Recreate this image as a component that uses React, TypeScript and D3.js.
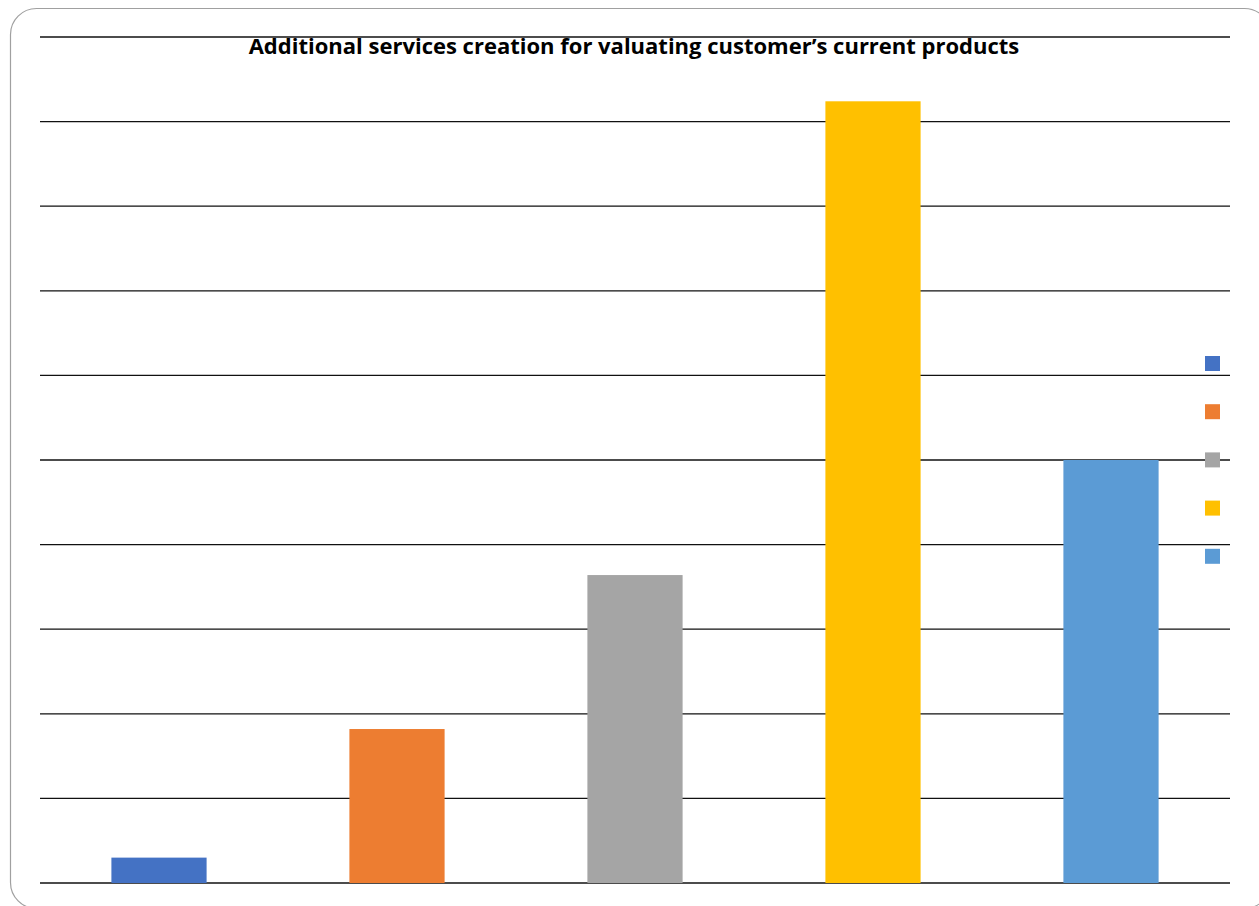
import * as d3 from "d3";
import { useEffect, useRef } from "react";

const categories = ["A", "B", "C", "D", "E"];
const values = [0.3, 1.82, 3.64, 9.24, 5.0];
const colors = ["#4472C4", "#ED7D31", "#A5A5A5", "#FFC000", "#5B9BD5"];
const yTicks = [0, 1, 2, 3, 4, 5, 6, 7, 8, 9, 10];
const title = "Additional services creation for valuating customer\u2019s current products";

const App = () => {
    const svgRef = useRef<SVGSVGElement>(null);
    const width = 1259;
    const height = 906;
    const left = 40;
    const right = 1230;
    const top = 37;
    const bottom = 883;

    useEffect(() => {
        if (svgRef.current) drawChart();
    }, [svgRef]);

    const drawChart = () => {
        const svg = d3.select(svgRef.current);
        svg.selectAll("*").remove();

        // Frame around the chart
        svg.append("rect")
            .attr("x", 10.5)
            .attr("y", 8.5)
            .attr("width", 1260)
            .attr("height", 900)
            .attr("rx", 26)
            .attr("fill", "#fff")
            .attr("stroke", "#a0a0a0")
            .attr("stroke-width", 1.2);

        const scaleX = d3
            .scaleBand()
            .domain(categories)
            .range([left, right])
            .paddingInner(0.6)
            .paddingOuter(0.3);
        const scaleY = d3.scaleLinear().domain([0, 10]).range([bottom, top]);

        // Horizontal grid lines
        svg.append("g")
            .selectAll("line")
            .data(yTicks)
            .join("line")
            .attr("x1", left)
            .attr("x2", right)
            .attr("y1", (d) => scaleY(d))
            .attr("y2", (d) => scaleY(d))
            .attr("stroke", "#111")
            .attr("stroke-width", 1.3);

        // Bars
        svg.append("g")
            .selectAll("rect")
            .data(values)
            .join("rect")
            .attr("x", (d, i) => scaleX(categories[i])!)
            .attr("y", (d) => scaleY(d))
            .attr("width", scaleX.bandwidth())
            .attr("height", (d) => bottom - scaleY(d))
            .attr("fill", (d, i) => colors[i]);

        // Title
        svg.append("text")
            .attr("x", 634)
            .attr("y", 54)
            .attr("text-anchor", "middle")
            .attr("font-family", "'Open Sans', sans-serif")
            .attr("font-weight", "bold")
            .attr("font-size", 22)
            .attr("fill", "#000")
            .text(title);

        // Legend (markers only)
        const legend = svg.append("g").attr("transform", "translate(1205,356)");
        legend.selectAll("rect")
            .data(categories)
            .join("rect")
            .attr("x", 0)
            .attr("y", (d, i) => i * 48.2)
            .attr("width", 15)
            .attr("height", 15)
            .attr("fill", (d, i) => colors[i]);
    };

    return (
        <svg
            ref={svgRef}
            width={width}
            height={height}
            style={{ position: "absolute", left: 0, top: 0 }}
        />
    );
};

export default App;
